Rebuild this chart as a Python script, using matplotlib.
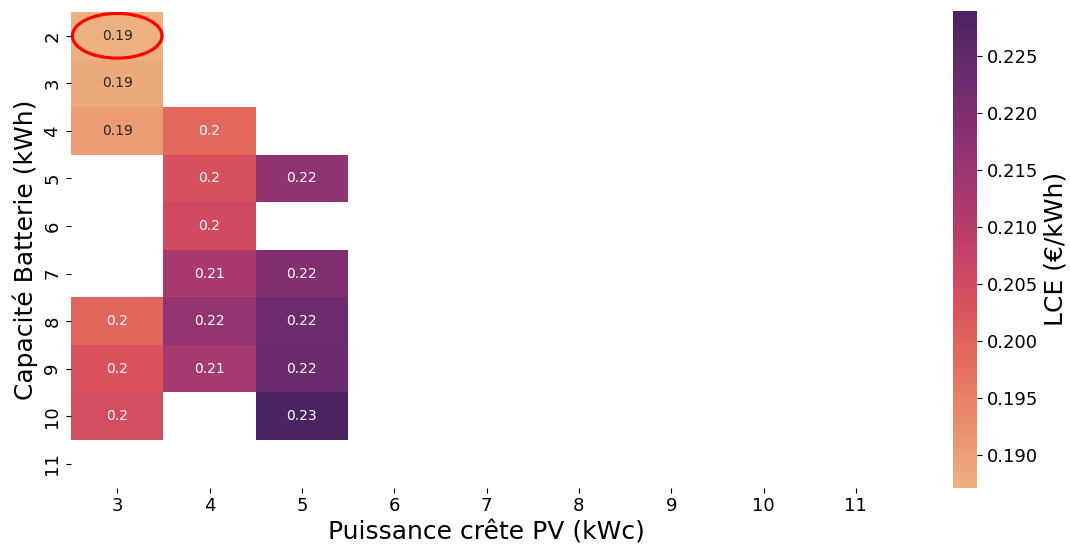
import matplotlib
matplotlib.use("Agg")
import matplotlib.pyplot as plt
import numpy as np
import pandas as pd
import seaborn as sns
from matplotlib.patches import Ellipse

# LCE grid (€/kWh): battery capacity (rows) vs PV peak power (columns)
batteries = [2, 3, 4, 5, 6, 7, 8, 9, 10, 11]
pv_peaks = [3, 4, 5, 6, 7, 8, 9, 10, 11]
nan = np.nan
lce_pv3 = [0.1871, 0.1884, 0.1904, nan, nan, nan, 0.1996, 0.2030, 0.2045, nan]
lce_pv4 = [nan, nan, 0.1993, 0.2035, 0.2048, 0.2123, 0.2163, 0.2128, nan, nan]
lce_pv5 = [nan, nan, nan, 0.2168, nan, 0.2192, 0.2228, 0.2234, 0.2290, nan]
empty = [nan] * len(batteries)

table = pd.DataFrame(
    {3: lce_pv3, 4: lce_pv4, 5: lce_pv5, 6: empty, 7: empty,
     8: empty, 9: empty, 10: empty, 11: empty},
    index=batteries,
)[pv_peaks]

fig = plt.figure(figsize=(10.7, 5.45), dpi=100)
ax = fig.add_axes([0.0664, 0.1053, 0.7766, 0.8727])
cax = fig.add_axes([0.8907, 0.1053, 0.0224, 0.8747])

sns.heatmap(table, ax=ax, cbar_ax=cax, cmap="flare", annot=True,
            annot_kws={"fontsize": 10},
            cbar_kws={"label": "LCE (€/kWh)"})

# highlight the cheapest configuration
best = np.unravel_index(np.nanargmin(table.values), table.shape)
ax.add_patch(Ellipse((best[1] + 0.5, best[0] + 0.5), 0.97, 0.94,
                     fill=False, edgecolor="red", linewidth=2.3, zorder=5))

ax.set_xlabel("Puissance crête PV (kWc)", fontsize=18)
ax.set_ylabel("Capacité Batterie (kWh)", fontsize=18)
ax.tick_params(axis="both", labelsize=13)
ax.set_yticklabels(ax.get_yticklabels(), rotation=90, va="center")
cax.tick_params(labelsize=13)
cax.yaxis.label.set_size(18)

fig.savefig("out.png", dpi=100)
